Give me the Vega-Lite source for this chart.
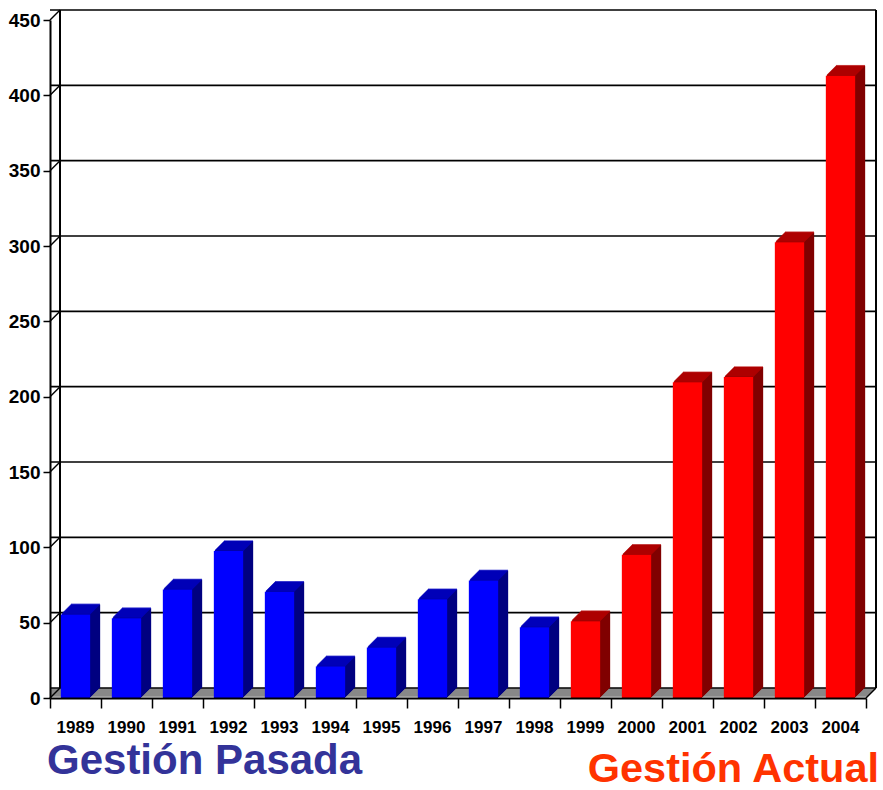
{
  "$schema": "https://vega.github.io/schema/vega-lite/v6.json",
  "width": 816,
  "height": 678,
  "autosize": {"type": "none"},
  "padding": {"left": 50, "top": 20, "right": 17, "bottom": 92},
  "background": "white",
  "config": {"view": {"stroke": null}},
  "datasets": {
    "bars": [
      {"year": "1989", "value": 55.5, "gestion": "Pasada"},
      {"year": "1990", "value": 53, "gestion": "Pasada"},
      {"year": "1991", "value": 72, "gestion": "Pasada"},
      {"year": "1992", "value": 97.5, "gestion": "Pasada"},
      {"year": "1993", "value": 70.5, "gestion": "Pasada"},
      {"year": "1994", "value": 21, "gestion": "Pasada"},
      {"year": "1995", "value": 33.5, "gestion": "Pasada"},
      {"year": "1996", "value": 65.5, "gestion": "Pasada"},
      {"year": "1997", "value": 78, "gestion": "Pasada"},
      {"year": "1998", "value": 47, "gestion": "Pasada"},
      {"year": "1999", "value": 51, "gestion": "Actual"},
      {"year": "2000", "value": 95, "gestion": "Actual"},
      {"year": "2001", "value": 209.5, "gestion": "Actual"},
      {"year": "2002", "value": 213, "gestion": "Actual"},
      {"year": "2003", "value": 302.5, "gestion": "Actual"},
      {"year": "2004", "value": 413, "gestion": "Actual"}
    ],
    "grid": [
      {"value": 0}, {"value": 50}, {"value": 100}, {"value": 150}, {"value": 200},
      {"value": 250}, {"value": 300}, {"value": 350}, {"value": 400}, {"value": 450}
    ],
    "frame": [{"value": 0, "top": 450}]
  },
  "encoding": {
    "y": {
      "field": "value",
      "type": "quantitative",
      "scale": {"domain": [0, 450], "nice": false},
      "axis": {
        "title": null,
        "values": [0, 50, 100, 150, 200, 250, 300, 350, 400, 450],
        "grid": false,
        "zindex": 1,
        "domainColor": "black",
        "domainWidth": 2,
        "tickColor": "black",
        "tickWidth": 1.5,
        "tickSize": 7,
        "labelFont": "Liberation Sans",
        "labelFontSize": 19,
        "labelFontWeight": "bold",
        "labelColor": "black",
        "labelPadding": 3
      }
    }
  },
  "layer": [
    {
      "data": {"name": "frame"},
      "layer": [
        {"mark": {"type": "rule", "color": "#808080", "strokeWidth": 1.6, "xOffset": 2, "x2Offset": 2, "yOffset": -2}},
        {"mark": {"type": "rule", "color": "#808080", "strokeWidth": 1.6, "xOffset": 3, "x2Offset": 3, "yOffset": -3}},
        {"mark": {"type": "rule", "color": "#808080", "strokeWidth": 1.6, "xOffset": 4, "x2Offset": 4, "yOffset": -4}},
        {"mark": {"type": "rule", "color": "#808080", "strokeWidth": 1.6, "xOffset": 5, "x2Offset": 5, "yOffset": -5}},
        {"mark": {"type": "rule", "color": "#808080", "strokeWidth": 1.6, "xOffset": 6, "x2Offset": 6, "yOffset": -6}},
        {"mark": {"type": "rule", "color": "#808080", "strokeWidth": 1.6, "xOffset": 7, "x2Offset": 7, "yOffset": -7}},
        {"mark": {"type": "rule", "color": "#808080", "strokeWidth": 1.6, "xOffset": 8, "x2Offset": 8, "yOffset": -8}},
        {"mark": {"type": "rule", "color": "#808080", "strokeWidth": 1.6, "xOffset": 9, "x2Offset": 9, "yOffset": -9}}
      ]
    },
    {
      "data": {"name": "grid"},
      "layer": [
        {"mark": {"type": "rule", "color": "black", "strokeWidth": 1.6, "xOffset": 10, "x2Offset": 10, "yOffset": -10}},
        {
          "mark": {"type": "rule", "color": "black", "strokeWidth": 1.5, "x2Offset": 10, "y2Offset": -10},
          "encoding": {"x": {"value": 0}, "x2": {"value": 0}, "y2": {"field": "value"}}
        }
      ]
    },
    {
      "data": {"name": "frame"},
      "layer": [
        {
          "mark": {"type": "rule", "color": "black", "strokeWidth": 2, "xOffset": 10, "yOffset": -10, "y2Offset": -10},
          "encoding": {"x": {"value": 0}, "y2": {"field": "top"}}
        },
        {
          "mark": {"type": "rule", "color": "black", "strokeWidth": 2, "xOffset": 10, "yOffset": -10, "y2Offset": -10},
          "encoding": {"x": {"value": "width"}, "y2": {"field": "top"}}
        },
        {
          "mark": {"type": "rule", "color": "black", "strokeWidth": 1.5, "x2Offset": 10, "y2Offset": -10},
          "encoding": {"x": {"value": "width"}, "x2": {"value": "width"}, "y2": {"field": "value"}}
        }
      ]
    },
    {
      "data": {"name": "bars"},
      "encoding": {
        "x": {
          "field": "year",
          "type": "nominal",
          "scale": {"paddingInner": 0, "paddingOuter": 0},
          "axis": {
            "title": null,
            "bandPosition": 1,
            "tickExtra": true,
            "labelAngle": 0,
            "zindex": 1,
            "tickSize": 10,
            "tickWidth": 1.5,
            "tickColor": "black",
            "domainColor": "black",
            "domainWidth": 2,
            "labelFont": "Liberation Sans",
            "labelFontSize": 17,
            "labelFontWeight": "bold",
            "labelColor": "black",
            "labelPadding": 11
          }
        }
      },
      "layer": [
        {"mark": {"type": "bar", "width": {"band": 0.575}, "xOffset": 10, "x2Offset": 10, "yOffset": -10, "y2Offset": -10}, "encoding": {"fill": {"condition": {"test": "datum.gestion === 'Pasada'", "value": "#000080"}, "value": "#800000"}}},
        {"mark": {"type": "bar", "width": {"band": 0.575}, "xOffset": 9, "x2Offset": 9, "yOffset": -9, "y2Offset": -9}, "encoding": {"fill": {"condition": {"test": "datum.gestion === 'Pasada'", "value": "#000080"}, "value": "#800000"}}},
        {"mark": {"type": "bar", "width": {"band": 0.575}, "xOffset": 8, "x2Offset": 8, "yOffset": -8, "y2Offset": -8}, "encoding": {"fill": {"condition": {"test": "datum.gestion === 'Pasada'", "value": "#000080"}, "value": "#800000"}}},
        {"mark": {"type": "bar", "width": {"band": 0.575}, "xOffset": 7, "x2Offset": 7, "yOffset": -7, "y2Offset": -7}, "encoding": {"fill": {"condition": {"test": "datum.gestion === 'Pasada'", "value": "#000080"}, "value": "#800000"}}},
        {"mark": {"type": "bar", "width": {"band": 0.575}, "xOffset": 6, "x2Offset": 6, "yOffset": -6, "y2Offset": -6}, "encoding": {"fill": {"condition": {"test": "datum.gestion === 'Pasada'", "value": "#000080"}, "value": "#800000"}}},
        {"mark": {"type": "bar", "width": {"band": 0.575}, "xOffset": 5, "x2Offset": 5, "yOffset": -5, "y2Offset": -5}, "encoding": {"fill": {"condition": {"test": "datum.gestion === 'Pasada'", "value": "#000080"}, "value": "#800000"}}},
        {"mark": {"type": "bar", "width": {"band": 0.575}, "xOffset": 4, "x2Offset": 4, "yOffset": -4, "y2Offset": -4}, "encoding": {"fill": {"condition": {"test": "datum.gestion === 'Pasada'", "value": "#000080"}, "value": "#800000"}}},
        {"mark": {"type": "bar", "width": {"band": 0.575}, "xOffset": 3, "x2Offset": 3, "yOffset": -3, "y2Offset": -3}, "encoding": {"fill": {"condition": {"test": "datum.gestion === 'Pasada'", "value": "#000080"}, "value": "#800000"}}},
        {"mark": {"type": "bar", "width": {"band": 0.575}, "xOffset": 2, "x2Offset": 2, "yOffset": -2, "y2Offset": -2}, "encoding": {"fill": {"condition": {"test": "datum.gestion === 'Pasada'", "value": "#000080"}, "value": "#800000"}}},
        {"mark": {"type": "bar", "width": {"band": 0.575}, "xOffset": 1, "x2Offset": 1, "yOffset": -1, "y2Offset": -1}, "encoding": {"fill": {"condition": {"test": "datum.gestion === 'Pasada'", "value": "#000080"}, "value": "#800000"}}},
        {"mark": {"type": "tick", "size": 29, "thickness": 1.6, "xOffset": 10, "yOffset": -10}, "encoding": {"color": {"condition": {"test": "datum.gestion === 'Pasada'", "value": "#0000C4"}, "value": "#B80000"}}},
        {"mark": {"type": "tick", "size": 29, "thickness": 1.6, "xOffset": 9, "yOffset": -9}, "encoding": {"color": {"condition": {"test": "datum.gestion === 'Pasada'", "value": "#0000C4"}, "value": "#B80000"}}},
        {"mark": {"type": "tick", "size": 29, "thickness": 1.6, "xOffset": 8, "yOffset": -8}, "encoding": {"color": {"condition": {"test": "datum.gestion === 'Pasada'", "value": "#0000C4"}, "value": "#B80000"}}},
        {"mark": {"type": "tick", "size": 29, "thickness": 1.6, "xOffset": 7, "yOffset": -7}, "encoding": {"color": {"condition": {"test": "datum.gestion === 'Pasada'", "value": "#0000C4"}, "value": "#B80000"}}},
        {"mark": {"type": "tick", "size": 29, "thickness": 1.6, "xOffset": 6, "yOffset": -6}, "encoding": {"color": {"condition": {"test": "datum.gestion === 'Pasada'", "value": "#0000C4"}, "value": "#B80000"}}},
        {"mark": {"type": "tick", "size": 29, "thickness": 1.6, "xOffset": 5, "yOffset": -5}, "encoding": {"color": {"condition": {"test": "datum.gestion === 'Pasada'", "value": "#0000C4"}, "value": "#B80000"}}},
        {"mark": {"type": "tick", "size": 29, "thickness": 1.6, "xOffset": 4, "yOffset": -4}, "encoding": {"color": {"condition": {"test": "datum.gestion === 'Pasada'", "value": "#0000C4"}, "value": "#B80000"}}},
        {"mark": {"type": "tick", "size": 29, "thickness": 1.6, "xOffset": 3, "yOffset": -3}, "encoding": {"color": {"condition": {"test": "datum.gestion === 'Pasada'", "value": "#0000C4"}, "value": "#B80000"}}},
        {"mark": {"type": "tick", "size": 29, "thickness": 1.6, "xOffset": 2, "yOffset": -2}, "encoding": {"color": {"condition": {"test": "datum.gestion === 'Pasada'", "value": "#0000C4"}, "value": "#B80000"}}},
        {"mark": {"type": "tick", "size": 29, "thickness": 1.6, "xOffset": 1, "yOffset": -1}, "encoding": {"color": {"condition": {"test": "datum.gestion === 'Pasada'", "value": "#0000C4"}, "value": "#B80000"}}},
        {"mark": {"type": "bar", "width": {"band": 0.575}}, "encoding": {"fill": {"condition": {"test": "datum.gestion === 'Pasada'", "value": "#0000FF"}, "value": "#FF0000"}}}
      ]
    },
    {
      "data": {"values": [{"label": "Gestión Pasada", "year": "1989", "value": -50.5}]},
      "mark": {"type": "text", "align": "left", "baseline": "alphabetic", "dx": -28.5, "font": "Liberation Sans", "fontSize": 42, "fontWeight": "bold", "color": "#333399"},
      "encoding": {
        "x": {"field": "year", "type": "nominal"},
        "text": {"field": "label"}
      }
    },
    {
      "data": {"values": [{"label": "Gestión Actual", "year": "2004", "value": -55.5}]},
      "mark": {"type": "text", "align": "right", "baseline": "alphabetic", "dx": 38.5, "font": "Liberation Sans", "fontSize": 41.5, "fontWeight": "bold", "color": "#FF3300"},
      "encoding": {
        "x": {"field": "year", "type": "nominal"},
        "text": {"field": "label"}
      }
    }
  ]
}
